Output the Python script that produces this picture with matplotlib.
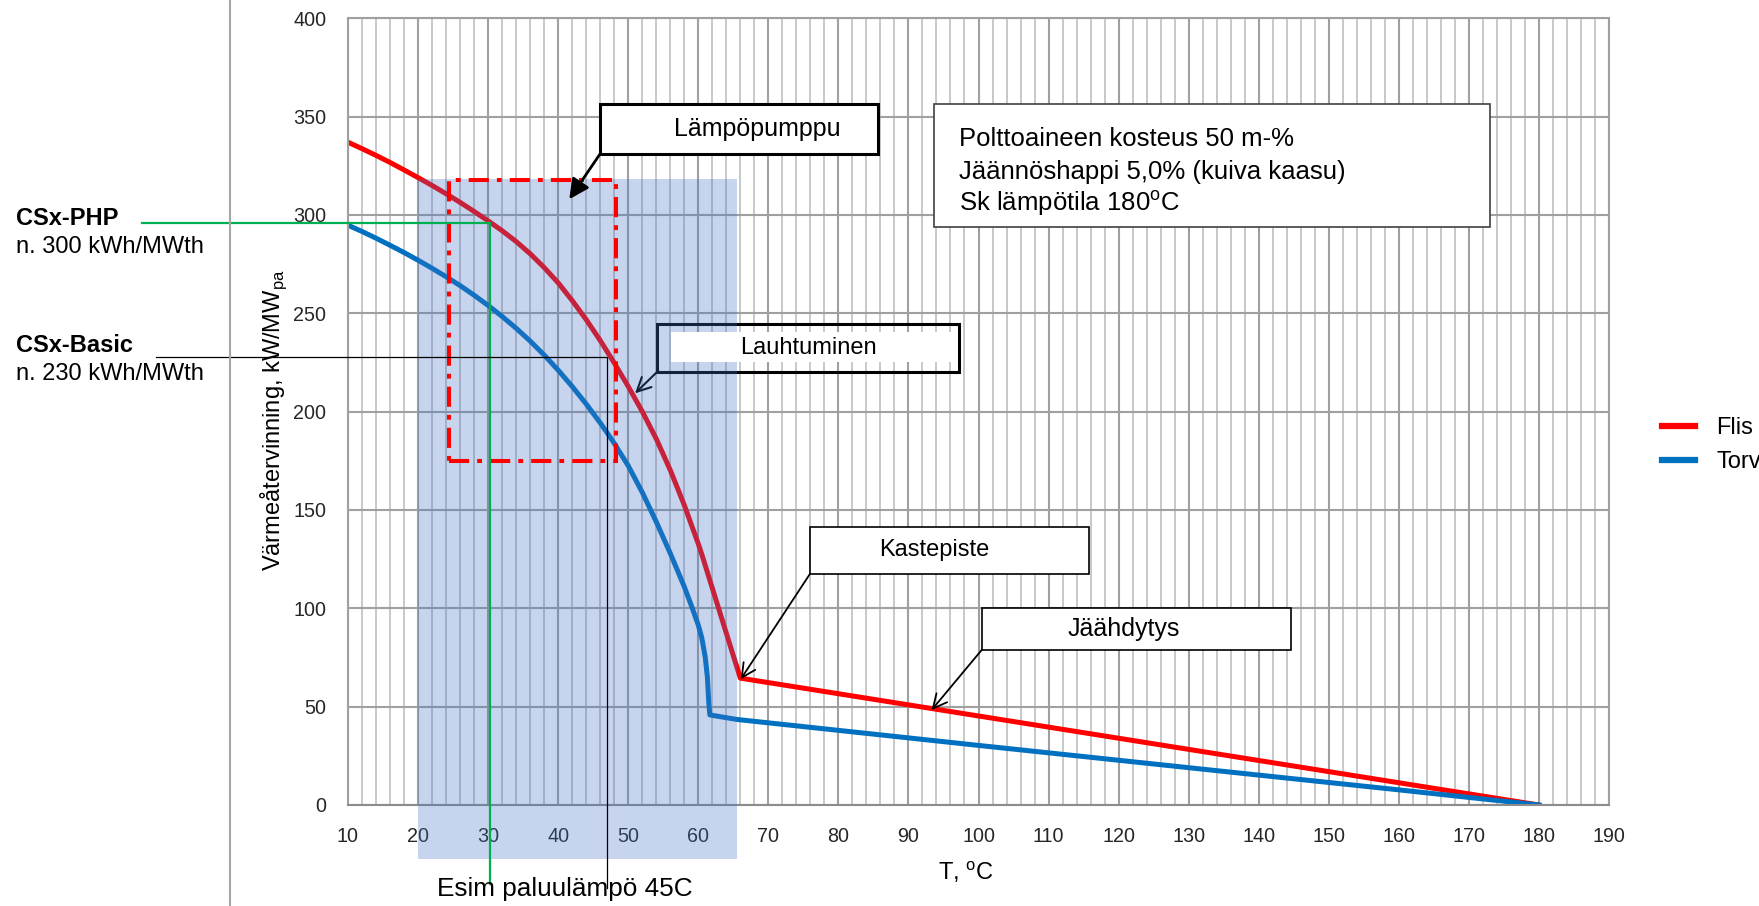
import matplotlib
matplotlib.use("Agg")
import matplotlib.pyplot as plt
from matplotlib.patches import Rectangle
from matplotlib.ticker import MultipleLocator

plt.rcParams['font.family'] = ['Liberation Sans', 'DejaVu Sans']
plt.rcParams['mathtext.fontset'] = 'custom'
plt.rcParams['mathtext.rm'] = 'Liberation Sans'

# ---- data (values read/estimated from the reference) ----
flis_T = [10, 12, 14, 16, 18, 20, 22, 24, 26, 28, 30, 32, 34, 36, 38, 40, 42, 44, 46, 48,
          50, 52, 54, 56, 58, 60, 60.5, 62, 64, 66, 180]
flis_Q = [337, 333.7, 330.3, 326.7, 322.9, 319, 315, 310.8, 306.4, 301.8, 297, 292, 286.5,
          280.3, 273.3, 265.5, 256.5, 246.8, 236.2, 224.8, 212.8, 200.1, 186.2, 170.3, 152.5,
          132.8, 127.5, 110.3, 87.4, 64.5, 0]
torv_T = [10, 12, 14, 16, 18, 20, 22, 24, 26, 28, 30, 32, 34, 36, 38, 40, 42, 44, 46, 47, 48,
          50, 52, 54, 56, 58, 59, 60, 60.5, 61, 61.3, 61.5, 61.65, 65.5, 100, 140, 160, 180]
torv_Q = [294.8, 291.6, 288.2, 284.6, 280.9, 277, 272.9, 268.6, 264.1, 259.2, 254, 248.4,
          242.4, 235.9, 228.8, 221.1, 212.8, 203.9, 194.3, 189.2, 183.9, 172.5, 159, 144, 128,
          111, 101.5, 91.5, 85, 75, 65, 52, 45.8, 43.5, 30.3, 15.2, 7.7, 0]
series_names = ['Flis', 'Torv']
x_ticks = list(range(10, 191, 10))
y_ticks = list(range(0, 401, 50))

php_T, php_Q = 30.27, 295.9
basic_T, basic_Q = 46.97, 227.6

RED = '#ff0000'
BLUE = '#0070c0'
GREEN = '#00b050'

fig = plt.figure(figsize=(17.59, 9.06), dpi=100)
ax = fig.add_axes([348/1759, 1-805/906, (1609-348)/1759, (805-18.3)/906])
ax.set_xlim(10, 190)
ax.set_ylim(0, 400)
ax.set_xticks(x_ticks)
ax.set_yticks(y_ticks)
ax.xaxis.set_minor_locator(MultipleLocator(2))
ax.tick_params(which='both', length=0)
ax.tick_params(axis='both', labelsize=14.2, colors='#262626', pad=15.5)
ax.set_axisbelow(True)
ax.grid(which='minor', axis='x', color='#c8c8c8', lw=1.4, zorder=0.5)
ax.grid(which='major', axis='both', color='#a0a0a0', lw=1.5, zorder=0.6)
for s in ax.spines.values():
    s.set_color('#a0a0a0')
    s.set_linewidth(1.5)
ax.spines['bottom'].set_color('#8c8c8c')

ax.plot(flis_T, flis_Q, color=RED, lw=3.6, label=series_names[0], zorder=2, solid_joinstyle='round')
ax.plot(torv_T, torv_Q, color=BLUE, lw=3.6, label=series_names[1], zorder=2, solid_joinstyle='round')

# shaded region (drawn over the curves)
ax.add_patch(Rectangle((20.03, -27.6), 65.48-20.03, 318.3+27.6, facecolor='#4472c4',
                       alpha=0.3, edgecolor='none', zorder=3, clip_on=False))

# heat pump dash-dot rectangle
ax.add_patch(Rectangle((24.46, 175.1), 48.21-24.46, 317.8-175.1, facecolor='none',
                       edgecolor=RED, lw=2.9, linestyle=(0, (5, 2, 1.2, 2)), zorder=4))

# green and black reference lines
ax.plot([-19.36, php_T, php_T], [php_Q, php_Q, -40.2], color=GREEN, lw=1.6, zorder=4, clip_on=False)
ax.plot([-17.4, basic_T, basic_T], [basic_Q, basic_Q, -42.2], color='black', lw=0.9, zorder=4, clip_on=False)

def box(x0, x1, y0, y1, z=5, fc='white', lw=2.2, ec='black'):
    ax.add_patch(Rectangle((x0, y0), x1-x0, y1-y0, facecolor=fc, edgecolor=ec, lw=lw,
                           zorder=z, clip_on=False))

# Lämpöpumppu
box(45.97, 85.65, 331.0, 356.2)
ax.text(56.55, 343.6, 'Lämpöpumppu', ha='left', va='center', fontsize=18, zorder=6)
ax.annotate('', xy=(41.59, 308.0), xytext=(45.97, 331.0),
            arrowprops=dict(arrowstyle='-|>', color='black', lw=2, mutation_scale=30,
                            shrinkA=0, shrinkB=0), zorder=6)

# Lauhtuminen (partly under the shading)
box(54.11, 97.21, 220.2, 244.6, z=2.5, fc='none')
ax.add_patch(Rectangle((56.1, 225.3), 96.64-56.1, 240.5-225.3, facecolor='white',
                       edgecolor='none', zorder=4))
ax.text(75.66, 232.4, 'Lauhtuminen', ha='center', va='center', fontsize=17, zorder=6)
ax.annotate('', xy=(50.97, 209.3), xytext=(54.15, 220.3),
            arrowprops=dict(arrowstyle='->', color='black', lw=1.5, mutation_scale=25,
                            shrinkA=0, shrinkB=0), zorder=2.5)

# Kastepiste
box(75.94, 115.76, 117.5, 141.5, lw=1.2)
ax.text(93.7, 129.7, 'Kastepiste', ha='center', va='center', fontsize=17, zorder=6)
ax.annotate('', xy=(66.05, 63.9), xytext=(75.94, 117.5),
            arrowprops=dict(arrowstyle='->', color='black', lw=1.3, mutation_scale=25,
                            shrinkA=0, shrinkB=0), zorder=6)

# Jäähdytys
box(100.45, 144.6, 78.8, 100.3, lw=1.2)
ax.text(120.76, 89.5, 'Jäähdytys', ha='center', va='center', fontsize=18, zorder=6)
ax.annotate('', xy=(93.31, 48.3), xytext=(100.45, 78.8),
            arrowprops=dict(arrowstyle='->', color='black', lw=1.3, mutation_scale=25,
                            shrinkA=0, shrinkB=0), zorder=6)

# info box
box(93.71, 173.0, 294.0, 356.4, lw=1.2, ec='#404040')
info_lines = ['Polttoaineen kosteus 50 m-%',
              'Jäännöshappi 5,0% (kuiva kaasu)',
              'Sk lämpötila 180$^\\mathregular{o}$C']
for line, yb in zip(info_lines, [335.1, 318.1, 302.2]):
    ax.text(97.27, yb, line, ha='left', va='baseline', fontsize=18.5, zorder=6)

# legend
leg = ax.legend(loc='center left', bbox_to_anchor=(1650/1759, 1-445/906),
                bbox_transform=fig.transFigure, frameon=False, fontsize=17,
                handlelength=1.4, handletextpad=0.9, labelspacing=0.5, borderpad=0)
for h in leg.get_lines():
    h.set_linewidth(4.5)

# axis labels
fig.text(274/1759, 1-420/906, 'Värmeåtervinning, kW/MW$_\\mathregular{pa}$', rotation=90,
         ha='center', va='center', fontsize=17)
fig.text(966/1759, 1-872/906, 'T, $^\\mathregular{o}$C', ha='center', va='center', fontsize=17)

# left-side texts
fig.text(15.7/1759, 1-225/906, 'CSx-PHP', fontsize=17, fontweight='bold', va='baseline')
fig.text(15.7/1759, 1-253/906, 'n. 300 kWh/MWth', fontsize=17, va='baseline')
fig.text(15.7/1759, 1-351.7/906, 'CSx-Basic', fontsize=17, fontweight='bold', va='baseline')
fig.text(15.7/1759, 1-380/906, 'n. 230 kWh/MWth', fontsize=17, va='baseline')
fig.text(436.6/1759, 1-896/906, 'Esim paluulämpö 45C', fontsize=18.8, va='baseline')

# separator line
fig.add_artist(plt.Line2D([230/1759, 230/1759], [0, 1], color='#a6a6a6', lw=1.5,
                          transform=fig.transFigure))

fig.savefig('out.png', dpi=100)
